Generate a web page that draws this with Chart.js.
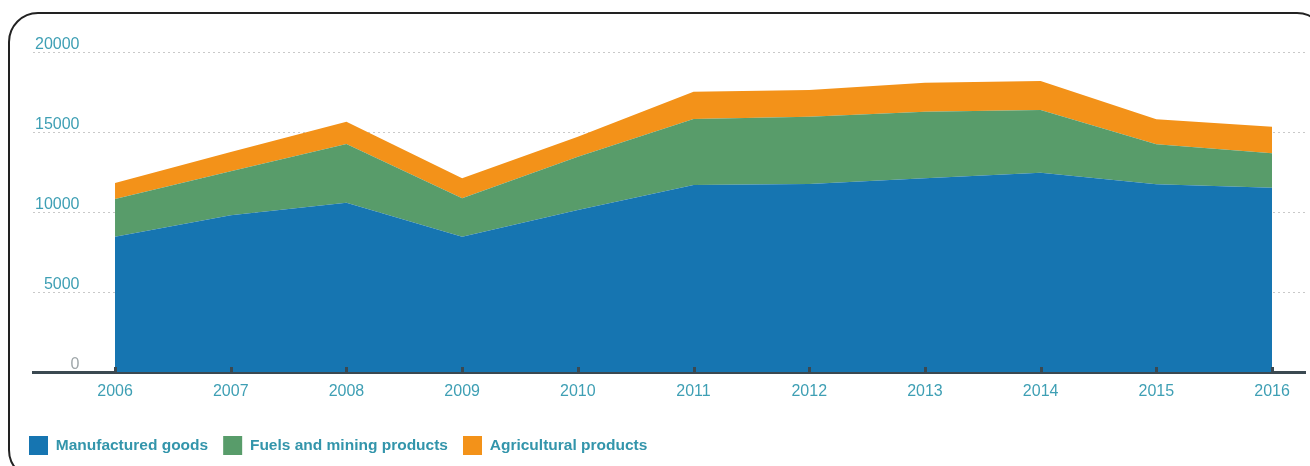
<!DOCTYPE html>
<html>
<head>
<meta charset="utf-8">
<script src="https://cdn.jsdelivr.net/npm/chart.js@4/dist/chart.umd.min.js"></script>
<style>
	html, body {margin: 0; padding: 0; background: #fff; overflow: hidden;}
	#wrap {position: relative; width: 1310px; height: 466px;}
	#frame {
		position: absolute; left: 8px; top: 12px; width: 1319px; height: 468px;
		border: 2px solid #222; border-radius: 30px; box-sizing: border-box;
		pointer-events: none;
	}
	canvas {position: absolute; left: 0; top: 0;}
</style>
</head>
<body>
<div id="wrap">
	<canvas id="tradeChart" width="1310" height="466"></canvas>
	<div id="frame"></div>
</div>
<script>
'use strict';

const years = [2006, 2007, 2008, 2009, 2010, 2011, 2012, 2013, 2014, 2015, 2016];
const manufactured = [8450, 9800, 10580, 8460, 10130, 11690, 11750, 12110, 12460, 11730, 11520];
const fuels = [2360, 2750, 3670, 2400, 3330, 4120, 4210, 4160, 3920, 2500, 2150];
const agricultural = [1000, 1200, 1390, 1250, 1250, 1710, 1670, 1810, 1810, 1560, 1660];
const yTicks = [0, 5000, 10000, 15000, 20000];

const teal = '#3e9fb4';
const axisColor = '#3b4951';
const fontFamily = '"Liberation Sans", Arial, sans-serif';

const toPoints = values => values.map((v, i) => ({x: years[i], y: v}));

const makeSet = (label, values, color, fill) => ({
	label: label,
	data: toPoints(values),
	backgroundColor: color,
	borderColor: color,
	borderWidth: 0,
	pointRadius: 0,
	fill: fill,
});

// little dark notches sitting on the x axis at every year
const yearNotches = {
	id: 'yearNotches',
	afterDatasetsDraw(chart) {
		const {ctx, scales: {x}, chartArea} = chart;
		ctx.save();
		ctx.fillStyle = axisColor;
		years.forEach(yr => {
			const px = Math.round(x.getPixelForValue(yr));
			ctx.fillRect(px - 1, chartArea.bottom - 5, 3, 5);
		});
		ctx.restore();
	},
};

const ctx = document.getElementById('tradeChart').getContext('2d');
const chart = new Chart(ctx, {
	type: 'line',
	data: {
		datasets: [
			makeSet('Manufactured goods', manufactured, '#1675b1', 'origin'),
			makeSet('Fuels and mining products', fuels, '#589c6a', '-1'),
			makeSet('Agricultural products', agricultural, '#f39219', '-1'),
		],
	},
	options: {
		responsive: false,
		animation: false,
		layout: {padding: {left: 14, right: 5, top: 52, bottom: 1}},
		elements: {line: {tension: 0}},
		plugins: {
			tooltip: {enabled: false},
			legend: {
				position: 'bottom',
				align: 'start',
				labels: {
					boxWidth: 19,
					boxHeight: 19,
					padding: 15,
					color: '#3395ab',
					font: {family: fontFamily, size: 15.5, weight: 'bold'},
				},
			},
		},
		scales: {
			x: {
				type: 'linear',
				min: 2005.291,
				max: 2016.285,
				afterFit: scale => { scale.height = 49; },
				grid: {display: false, drawTicks: false},
				border: {display: true, color: axisColor, width: 3},
				ticks: {
					stepSize: 1,
					includeBounds: false,
					padding: 10,
					color: teal,
					font: {family: fontFamily, size: 16},
					callback: v => String(v),
				},
			},
			y: {
				stacked: true,
				min: 0,
				max: 20000,
				afterBuildTicks: scale => { scale.ticks = yTicks.map(v => ({value: v})); },
				afterFit: scale => { scale.width = 19; },
				grid: {
					drawTicks: false,
					color: c => c.tick && c.tick.value === 0 ? 'rgba(0,0,0,0)' : '#c9c9c9',
					lineWidth: 1,
				},
				border: {display: false, dash: [2, 3]},
				ticks: {
					mirror: true,
					crossAlign: 'far',
					padding: 2,
					labelOffset: -7,
					color: c => c.tick && c.tick.value === 0 ? '#9ea6a9' : teal,
					font: {family: fontFamily, size: 16},
					callback: v => String(v),
				},
			},
		},
	},
	plugins: [yearNotches],
});
</script>
</body>
</html>
